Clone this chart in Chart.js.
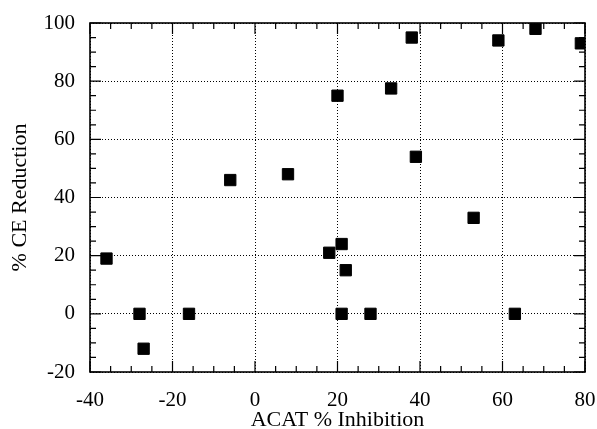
<!DOCTYPE html>
<html>
<head>
<meta charset="utf-8">
<script src="https://cdn.jsdelivr.net/npm/chart.js@4/dist/chart.umd.min.js"></script>
<style>
  html, body { margin: 0; padding: 0; background: #fff; }
  #wrap { width: 597px; height: 429px; }
</style>
</head>
<body>
<div id="wrap"><canvas id="c" width="597" height="429"></canvas></div>
<script>
// ACAT % inhibition vs % CE reduction
const acatX = [-36, -28, -27, -16, -6, 8, 20, 33, 38, 39, 59, 68, 79, 53, 18, 21, 22, 21, 28, 63];
const ceY   = [19, 0, -12, 0, 46, 48, 75, 77.5, 95, 54, 94, 98, 93, 33, 21, 24, 15, 0, 0, 0];
const xTicks = [-40, -20, 0, 20, 40, 60, 80];
const yTicks = [-20, 0, 20, 40, 60, 80, 100];
const minorStep = 5;

const serif = '"Liberation Serif", "DejaVu Serif", serif';

// inward ticks on all four sides plus the frame
const frameTicks = {
  id: 'frameTicks',
  afterDraw(chart) {
    const { ctx, chartArea: a, scales } = chart;
    const xs = scales.x, ys = scales.y;
    ctx.save();
    ctx.strokeStyle = '#000';
    ctx.lineWidth = 1.2;
    ctx.beginPath();
    for (let v = xTicks[0]; v <= xTicks[xTicks.length - 1]; v += minorStep) {
      const px = xs.getPixelForValue(v);
      const len = xTicks.includes(v) ? 11 : 6;
      ctx.moveTo(px, a.bottom); ctx.lineTo(px, a.bottom - len);
      ctx.moveTo(px, a.top); ctx.lineTo(px, a.top + len);
    }
    for (let v = yTicks[0]; v <= yTicks[yTicks.length - 1]; v += minorStep) {
      const py = ys.getPixelForValue(v);
      const len = yTicks.includes(v) ? 11 : 6;
      ctx.moveTo(a.left, py); ctx.lineTo(a.left + len, py);
      ctx.moveTo(a.right, py); ctx.lineTo(a.right - len, py);
    }
    ctx.stroke();
    ctx.lineWidth = 1.6;
    ctx.strokeRect(a.left, a.top, a.right - a.left, a.bottom - a.top);
    ctx.restore();
  }
};

new Chart(document.getElementById('c'), {
  type: 'scatter',
  data: {
    datasets: [{
      data: acatX.map((x, i) => ({ x, y: ceY[i] })),
      pointStyle: 'rect',
      pointRadius: 8,
      pointHoverRadius: 8,
      backgroundColor: '#000',
      borderColor: '#000',
      borderWidth: 1,
    }],
  },
  options: {
    responsive: false,
    animation: false,
    layout: { padding: { top: 23, right: 12, left: 0, bottom: 0 } },
    plugins: { legend: { display: false }, tooltip: { enabled: false } },
    scales: {
      x: {
        type: 'linear',
        min: -40, max: 80,
        afterBuildTicks: s => { s.ticks = xTicks.map(v => ({ value: v })); },
        afterFit: s => { s.height = 57; s.paddingLeft = 0; s.paddingRight = 0; },
        grid: { color: '#000', lineWidth: 1, drawTicks: false },
        border: { display: false, dash: [1, 2] },
        ticks: { color: '#000', padding: 16, font: { family: serif, size: 21 }, maxRotation: 0 },
        title: { display: true, text: 'ACAT % Inhibition', color: '#000', font: { family: serif, size: 22, lineHeight: 1 }, padding: { top: 0, bottom: -2 } },
      },
      y: {
        type: 'linear',
        min: -20, max: 100,
        afterBuildTicks: s => { s.ticks = yTicks.map(v => ({ value: v })); },
        afterFit: s => { s.width = 90; s.paddingTop = 0; s.paddingBottom = 0; },
        grid: { color: '#000', lineWidth: 1, drawTicks: false },
        border: { display: false, dash: [1, 2] },
        ticks: { color: '#000', padding: 15, font: { family: serif, size: 21 } },
        title: { display: true, text: '% CE Reduction', color: '#000', font: { family: serif, size: 22, lineHeight: 1 }, padding: { top: 9, bottom: 0 } },
      },
    },
  },
  plugins: [frameTicks],
});
</script>
</body>
</html>
